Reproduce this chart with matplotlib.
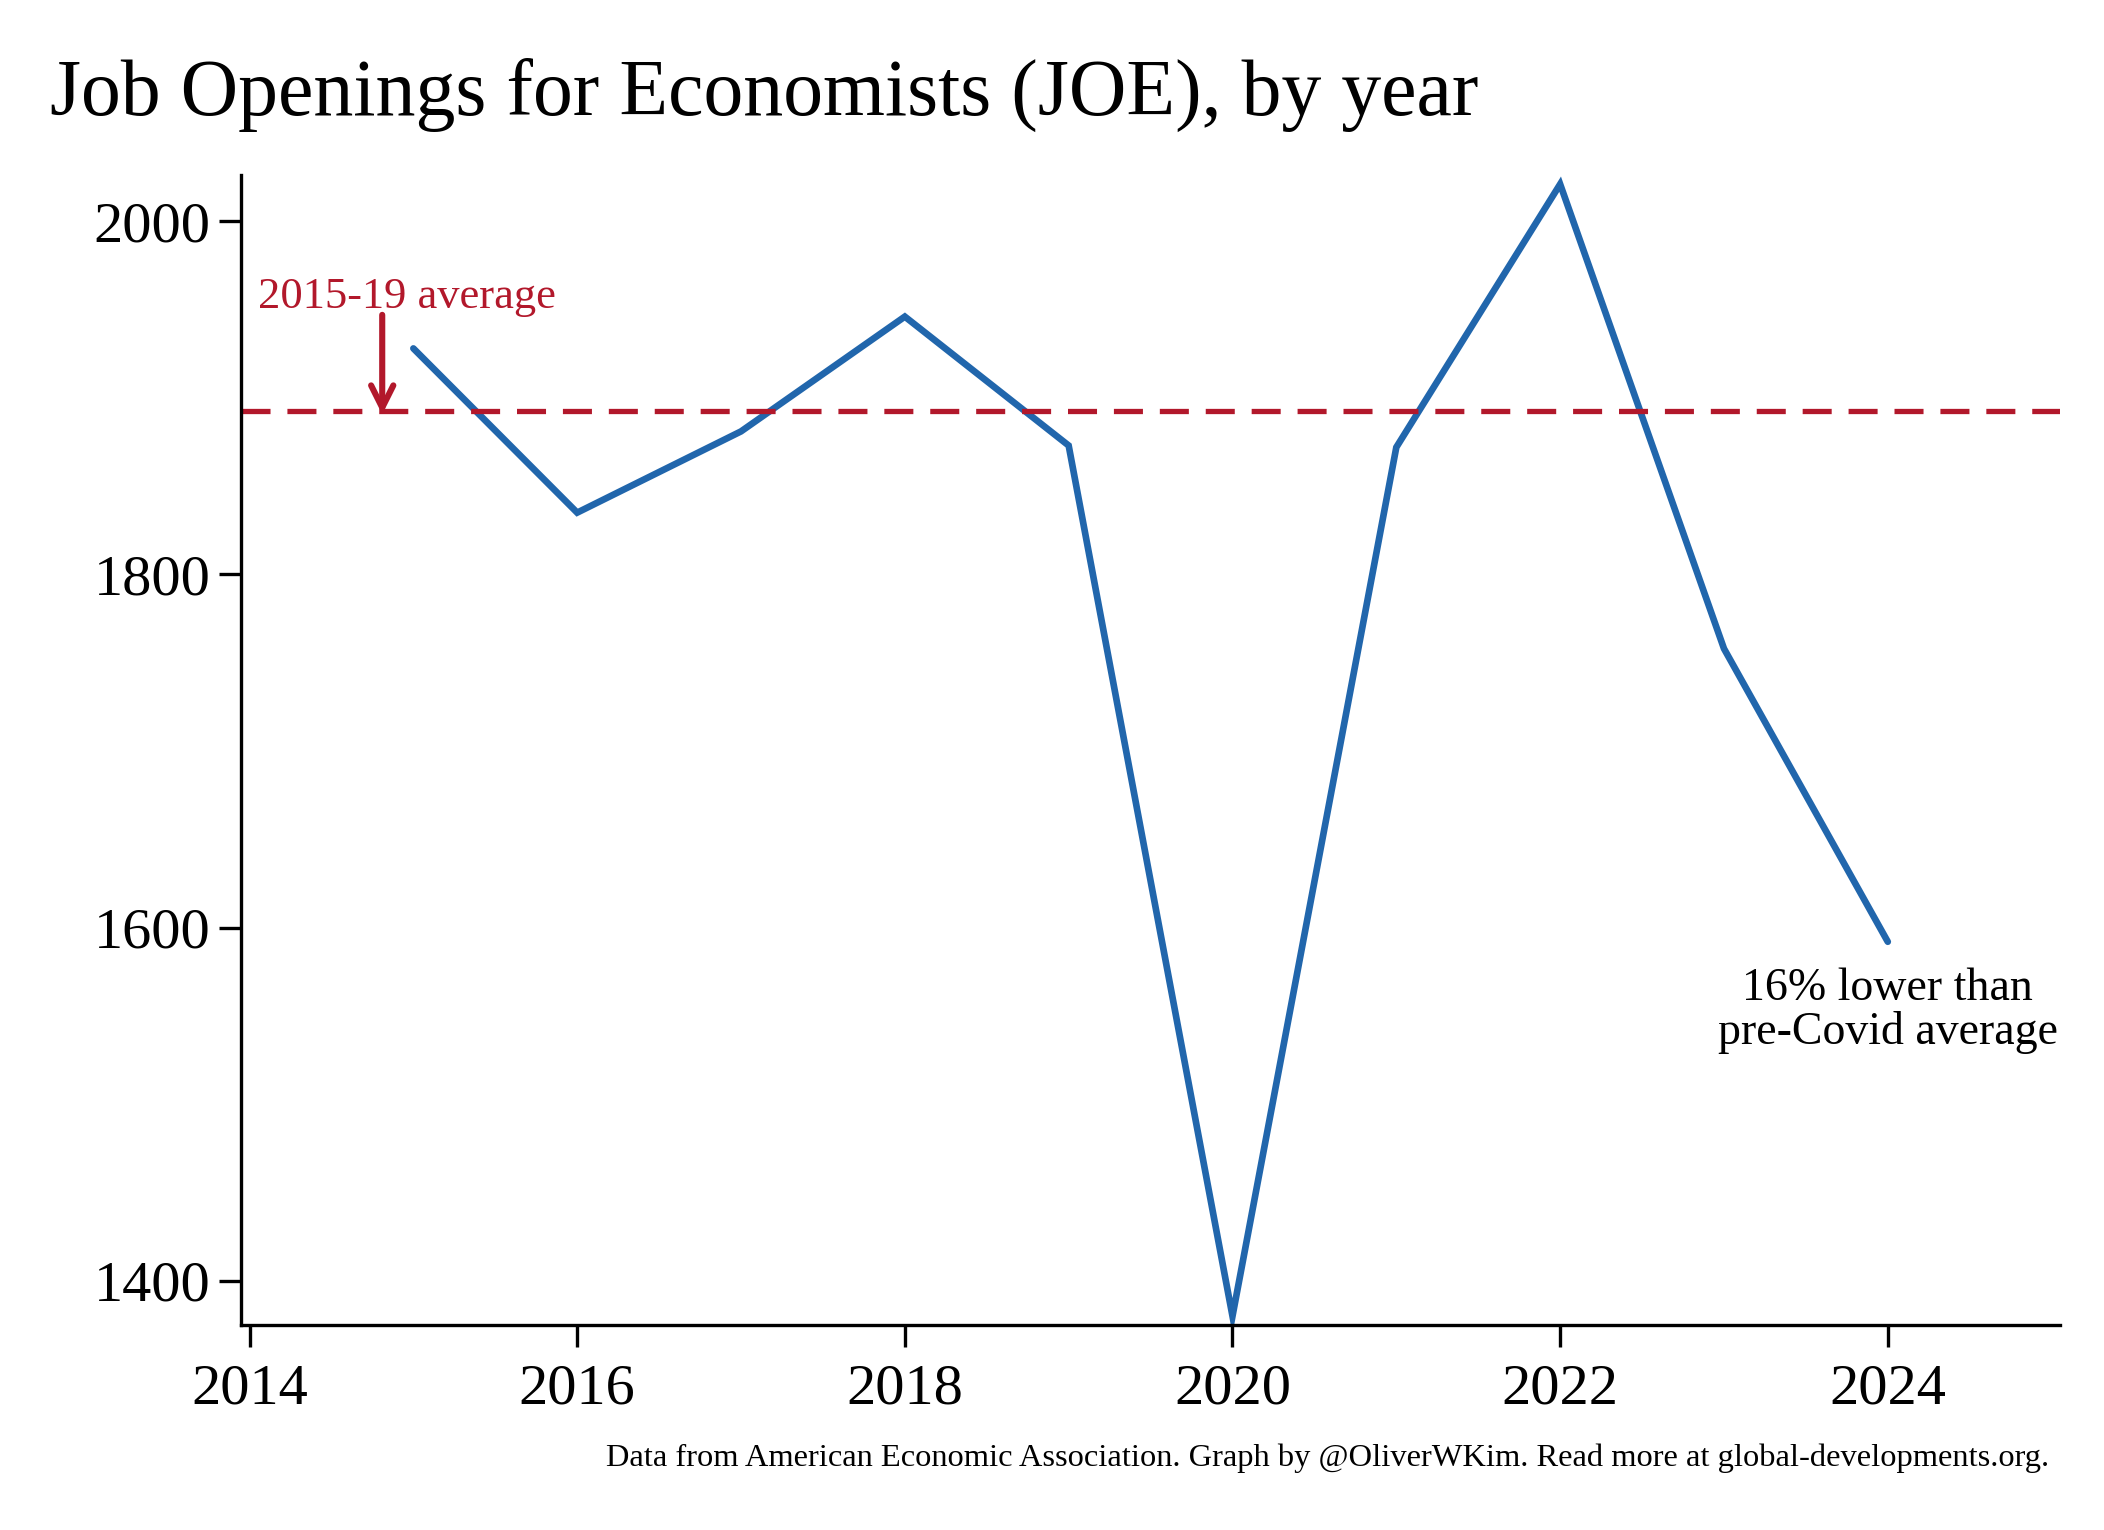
import matplotlib

matplotlib.use('Agg')
import matplotlib.pyplot as plt

# JOE listings per year
years = [2015, 2016, 2017, 2018, 2019, 2020, 2021, 2022, 2023, 2024]
openings = [1928, 1835, 1881, 1946, 1873, 1380, 1872, 2021, 1758, 1592]
avg_years = [2015, 2016, 2017, 2018, 2019]

x_ticks = [2014, 2016, 2018, 2020, 2022, 2024]
y_ticks = [1400, 1600, 1800, 2000]

BLUE = '#2166ac'
RED = '#b2182b'

plt.rcParams['font.family'] = ['Liberation Serif', 'DejaVu Serif']

pre_covid = [v for y, v in zip(years, openings) if y in avg_years]
avg = sum(pre_covid) / len(pre_covid)

fig = plt.figure(figsize=(10.52, 7.65), dpi=200)
ax = fig.add_axes([0.1147, 0.134, 0.979 - 0.1147, 0.8854 - 0.134])

ax.plot(years, openings, color=BLUE, lw=2.4, solid_capstyle='round',
        solid_joinstyle='miter')
ax.axhline(avg, color=RED, lw=1.9, dashes=(5.5, 3.2))

ax.annotate('', xy=(2014.81, avg - 2), xytext=(2014.81, 1947),
            arrowprops=dict(arrowstyle='->', color=RED, lw=2.2,
                            mutation_scale=20, shrinkA=0, shrinkB=0))
ax.text(2014.96, 1951, '2015-19 average', color=RED, fontsize=16,
        ha='center', va='baseline')
ax.text(2024.0, 1553, '16% lower than\npre-Covid average', color='black',
        fontsize=16.5, ha='center', va='center', linespacing=1.05)

ax.set_xlim(2013.95, 2025.05)
ax.set_ylim(1375, 2026)
ax.set_xticks(x_ticks)
ax.set_yticks(y_ticks)
ax.tick_params(axis='both', labelsize=21, width=1.2, length=8, color='black')
ax.tick_params(axis='x', pad=6)
ax.tick_params(axis='y', pad=3)

for side in ('top', 'right'):
    ax.spines[side].set_visible(False)
for side in ('left', 'bottom'):
    ax.spines[side].set_linewidth(1.2)

fig.text(0.024, 0.925, 'Job Openings for Economists (JOE), by year',
         fontsize=28.7, ha='left', va='baseline')
fig.text(0.974, 0.042,
         'Data from American Economic Association. Graph by @OliverWKim. '
         'Read more at global-developments.org.',
         fontsize=11.7, ha='right', va='baseline')

fig.savefig('out.png', dpi=200, facecolor='white')
